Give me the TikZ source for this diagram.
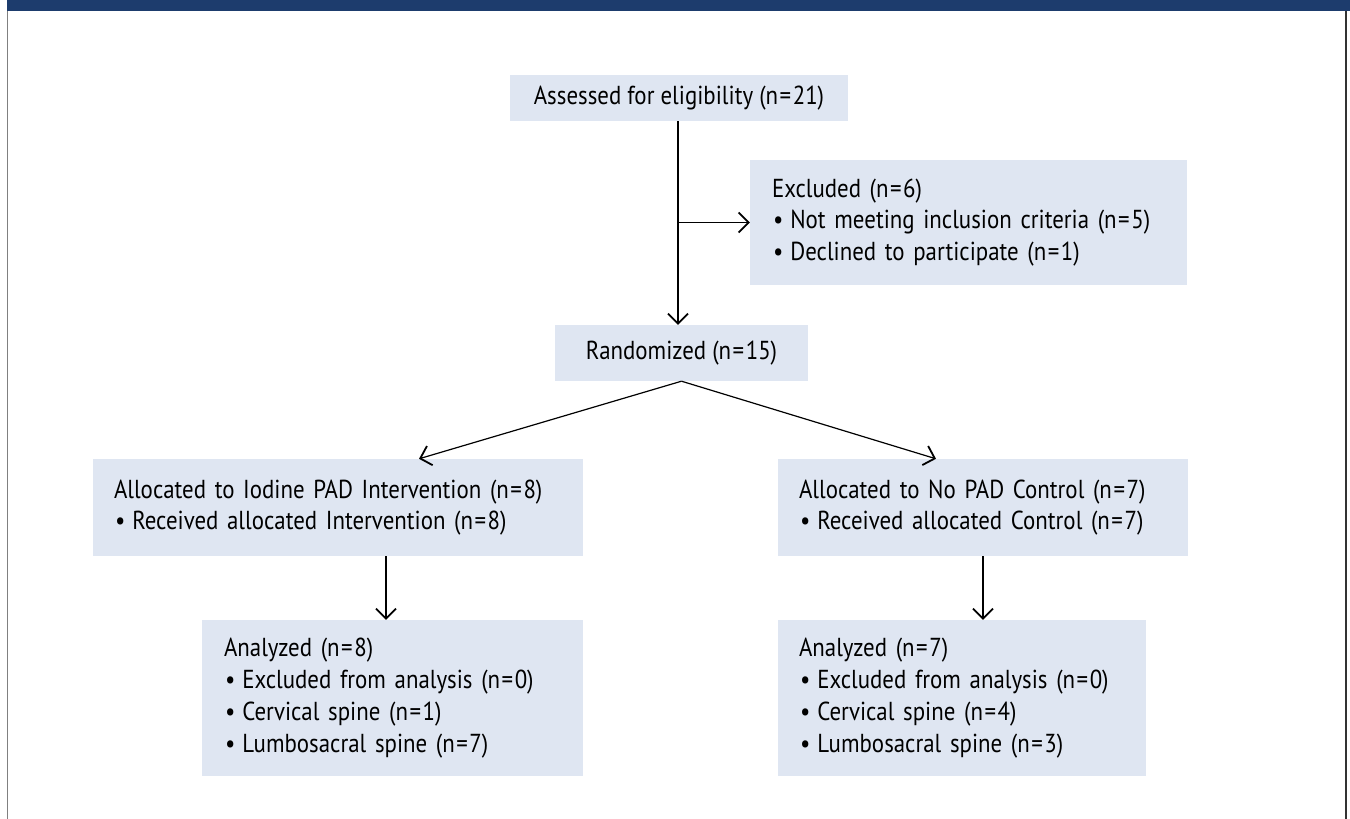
\documentclass[tikz,border=0pt]{standalone}
\usepackage{fontspec}
\setmainfont{PT Sans}[FakeStretch=0.88]
\usetikzlibrary{arrows.meta}
\definecolor{boxfill}{RGB}{223,230,242}
\definecolor{navybar}{RGB}{29,60,109}
\definecolor{framegray}{RGB}{128,128,128}
\newcommand{\bul}{\hspace*{1pt}\textbullet\hspace{7pt}}
\newcommand{\eqs}{\kern1.5pt=\kern1.5pt}
\begin{document}
\begin{tikzpicture}[x=1pt,y=-1pt,
  box/.style={fill=boxfill, draw=none, inner ysep=0pt, inner xsep=21pt,
    font=\fontsize{26}{31.8}\selectfont, anchor=center},
  cbox/.style={box, align=center},
  lbox/.style={box, align=left},
  arr/.style={line width=1.2pt, -{Straight Barb[length=10pt,width=20pt,line width=1.8pt]}},
]
\useasboundingbox (0,0) rectangle (1350,819);
% top bar and frame
\fill[navybar] (7,0) rectangle (1350,11);
\draw[framegray, line width=1.8pt] (7.5,11) -- (7.5,819);
\draw[black!80, line width=1.5pt] (1346,11) -- (1346,819);

\node[cbox, minimum width=338pt, minimum height=46pt] (assess) at (679,98) {Assessed for eligibility (n\eqs21)};
\node[lbox, text width=393pt, inner xsep=22pt, minimum height=125pt] (excl) at (968.5,222.5)
  {Excluded (n\eqs6)\\ \bul Not meeting inclusion criteria (n\eqs5)\\ \bul Declined to participate (n\eqs1)};
\node[cbox, minimum width=253pt, minimum height=56pt] (rand) at (681.5,353) {Randomized (n\eqs15)};
\node[lbox, text width=448pt, minimum height=97pt] (allocL) at (338,507.5)
  {Allocated to Iodine PAD Intervention (n\eqs8)\\ \bul Received allocated Intervention (n\eqs8)};
\node[lbox, text width=368pt, minimum height=97pt] (allocR) at (983,507.5)
  {Allocated to No PAD Control (n\eqs7)\\ \bul Received allocated Control (n\eqs7)};
\node[lbox, text width=337pt, inner xsep=22pt, minimum height=156pt] (anaL) at (392.5,698)
  {Analyzed (n\eqs8)\\ \bul Excluded from analysis (n\eqs0)\\ \bul Cervical spine (n\eqs1)\\ \bul Lumbosacral spine (n\eqs7)};
\node[lbox, text width=326pt, minimum height=156pt] (anaR) at (962,698)
  {Analyzed (n\eqs7)\\ \bul Excluded from analysis (n\eqs0)\\ \bul Cervical spine (n\eqs4)\\ \bul Lumbosacral spine (n\eqs3)};

% connectors
\draw[arr] ([xshift=-1pt]assess.south) -- ([xshift=-1pt]assess.south |- rand.north);
\draw[arr] ([xshift=-1pt]assess.south |- excl.west) -- (excl.west);
\draw[arr] (rand.south) -- ([xshift=81pt]allocL.north);
\draw[arr] (rand.south) -- ([xshift=-47pt]allocR.north);
\draw[arr] ([xshift=-6.5pt]anaL.north |- allocL.south) -- ([xshift=-6.5pt]anaL.north);
\draw[arr] (allocR.south) -- (allocR.south |- anaR.north);
\end{tikzpicture}
\end{document}
